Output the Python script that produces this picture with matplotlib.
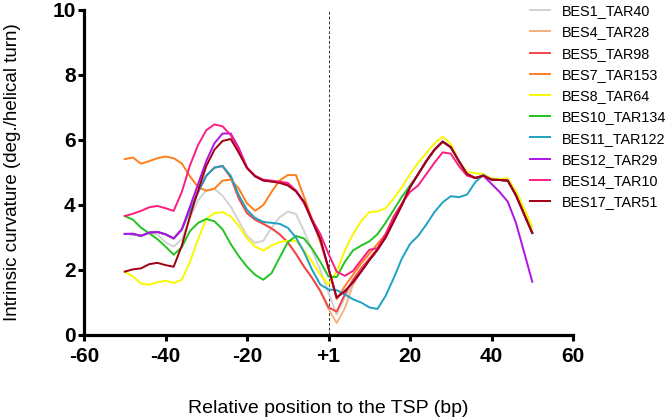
"""Intrinsic curvature profiles around the TSP."""
import matplotlib
matplotlib.use('Agg')
import matplotlib.pyplot as plt
import numpy as np

plt.rcParams['font.family'] = ['Liberation Sans', 'DejaVu Sans']

# positions (bp), one value every 2 bp from -50 to +50
POS = np.arange(-50, 51, 2)

BES1_TAR40 = [3.11, 3.10, 3.05, 3.15, 3.10, 2.85, 2.72, 2.95, 3.60, 4.15,
              4.45, 4.50, 4.28, 3.95, 3.50, 3.05, 2.83, 2.90, 3.30, 3.62,
              3.80, 3.72, 3.20, 2.60, 2.00, 1.30, 0.62, 1.15, 1.60, 1.95,
              2.30, 2.62, 3.00, 3.50, 4.00, 4.55, 4.95, 5.35, 5.70, 5.95,
              5.78, 5.35, 4.95, 4.83, 4.90, 4.78, 4.77, 4.75, 4.30, 3.72,
              3.14]
BES4_TAR28 = [3.11, 3.10, 3.05, 3.15, 3.17, 3.10, 2.97, 3.25, 3.85, 4.40,
              4.90, 5.15, 5.20, 4.85, 4.20, 3.75, 3.55, 3.42, 3.28, 3.10,
              2.85, 2.50, 2.10, 1.75, 1.35, 0.80, 0.37, 0.82, 1.55, 1.95,
              2.30, 2.62, 3.00, 3.50, 4.00, 4.55, 4.95, 5.35, 5.70, 5.95,
              5.78, 5.35, 4.95, 4.83, 4.90, 4.78, 4.77, 4.75, 4.30, 3.72,
              3.14]
BES5_TAR98 = [3.11, 3.10, 3.05, 3.15, 3.17, 3.10, 2.97, 3.25, 3.85, 4.40,
              4.90, 5.15, 5.20, 4.85, 4.20, 3.75, 3.55, 3.42, 3.28, 3.10,
              2.85, 2.50, 2.10, 1.75, 1.35, 0.85, 0.72, 1.25, 1.70, 2.05,
              2.35, 2.65, 3.00, 3.50, 4.00, 4.55, 4.95, 5.35, 5.70, 5.95,
              5.78, 5.35, 4.95, 4.83, 4.90, 4.78, 4.77, 4.75, 4.30, 3.72,
              3.14]
BES7_TAR153 = [5.41, 5.46, 5.27, 5.35, 5.44, 5.49, 5.44, 5.28, 4.88, 4.55,
               4.44, 4.50, 4.75, 4.78, 4.50, 4.05, 3.82, 4.00, 4.40, 4.75,
               4.92, 4.92, 4.25, 3.55, 2.85, 2.05, 1.10, 1.50, 1.85, 2.20,
               2.50, 2.80, 3.10, 3.55, 4.00, 4.55, 4.95, 5.35, 5.70, 5.95,
               5.78, 5.35, 4.95, 4.83, 4.90, 4.78, 4.77, 4.75, 4.30, 3.72,
               3.14]
BES8_TAR64 = [1.95, 1.80, 1.58, 1.55, 1.62, 1.67, 1.60, 1.70, 2.25, 2.95,
              3.57, 3.75, 3.78, 3.65, 3.35, 2.97, 2.72, 2.60, 2.75, 2.86,
              2.90, 2.90, 2.60, 2.25, 1.85, 1.55, 1.95, 2.60, 3.10, 3.50,
              3.78, 3.80, 3.90, 4.20, 4.55, 4.95, 5.30, 5.60, 5.90, 6.10,
              5.88, 5.35, 5.02, 4.98, 4.95, 4.82, 4.80, 4.82, 4.42, 3.90,
              3.32]
BES10_TAR134 = [3.66, 3.55, 3.30, 3.13, 2.95, 2.72, 2.47, 2.70, 3.20, 3.45,
                3.57, 3.50, 3.25, 2.80, 2.42, 2.10, 1.85, 1.70, 1.90, 2.38,
                2.85, 3.05, 2.97, 2.65, 2.25, 1.80, 1.78, 2.25, 2.60, 2.75,
                2.88, 3.10, 3.45, 3.85, 4.25, 4.60, 4.95, 5.35, 5.70, 5.95,
                5.78, 5.35, 4.95, 4.83, 4.90, 4.78, 4.77, 4.75, 4.30, 3.72,
                3.14]
BES11_TAR122 = [3.11, 3.10, 3.05, 3.15, 3.17, 3.10, 2.97, 3.25, 3.85, 4.40,
                4.90, 5.15, 5.20, 4.90, 4.30, 3.85, 3.60, 3.48, 3.45, 3.42,
                3.30, 3.00, 2.55, 2.00, 1.55, 1.40, 1.38, 1.25, 1.10, 1.00,
                0.85, 0.80, 1.20, 1.75, 2.35, 2.80, 3.05, 3.40, 3.78, 4.08,
                4.27, 4.24, 4.32, 4.70, 4.93, 4.78, 4.77, 4.75, 4.30, 3.72,
                3.14]
BES12_TAR29 = [3.11, 3.12, 3.05, 3.15, 3.17, 3.10, 2.97, 3.25, 3.95, 4.65,
               5.35, 5.90, 6.20, 6.20, 5.75, 5.15, 4.88, 4.76, 4.73, 4.70,
               4.63, 4.43, 4.08, 3.50, 2.95, 2.05, 1.15, 1.35, 1.62, 1.95,
               2.30, 2.62, 3.00, 3.50, 4.00, 4.55, 4.95, 5.35, 5.70, 5.95,
               5.78, 5.35, 4.95, 4.83, 4.90, 4.65, 4.40, 4.10, 3.45, 2.55,
               1.64]
BES14_TAR10 = [3.66, 3.73, 3.82, 3.93, 3.97, 3.90, 3.82, 4.40, 5.22, 5.85,
               6.30, 6.48, 6.42, 6.15, 5.70, 5.15, 4.90, 4.78, 4.75, 4.72,
               4.68, 4.45, 4.05, 3.55, 3.10, 2.50, 1.95, 1.82, 1.97, 2.30,
               2.62, 2.67, 3.10, 3.65, 4.05, 4.40, 4.60, 4.95, 5.30, 5.62,
               5.58, 5.20, 4.90, 4.83, 4.90, 4.78, 4.77, 4.75, 4.30, 3.72,
               3.14]
BES17_TAR51 = [1.95, 2.02, 2.05, 2.18, 2.22, 2.15, 2.10, 2.75, 3.65, 4.45,
               5.20, 5.70, 5.97, 6.03, 5.60, 5.13, 4.88, 4.75, 4.72, 4.68,
               4.60, 4.42, 4.10, 3.50, 2.95, 2.05, 1.15, 1.35, 1.62, 1.95,
               2.30, 2.62, 3.00, 3.50, 4.00, 4.55, 4.95, 5.35, 5.70, 5.95,
               5.78, 5.35, 4.95, 4.83, 4.90, 4.78, 4.77, 4.75, 4.30, 3.72,
               3.14]

SERIES = [
    ('BES1_TAR40', BES1_TAR40, '#d2d2d2'),
    ('BES4_TAR28', BES4_TAR28, '#f5b07c'),
    ('BES5_TAR98', BES5_TAR98, '#f2464a'),
    ('BES7_TAR153', BES7_TAR153, '#ff7f1e'),
    ('BES8_TAR64', BES8_TAR64, '#f8f800'),
    ('BES10_TAR134', BES10_TAR134, '#22c322'),
    ('BES11_TAR122', BES11_TAR122, '#1fa2c2'),
    ('BES12_TAR29', BES12_TAR29, '#b012e6'),
    ('BES14_TAR10', BES14_TAR10, '#fa1e82'),
    ('BES17_TAR51', BES17_TAR51, '#a00014'),
]

XTICKS = [-60, -40, -20, 0, 20, 40, 60]
XTICKLABELS = ['-60', '-40', '-20', '+1', '20', '40', '60']
YTICKS = [0, 2, 4, 6, 8, 10]


def plot():
    fig = plt.figure(figsize=(6.69, 4.2), dpi=100)
    ax = fig.add_axes([0.1256, 0.2024, 0.7309, 0.7738])

    # TSP marker
    ax.plot([0, 0], [0, 10], color='#333333', linestyle=(0, (3, 2)),
            linewidth=0.7, zorder=1)

    for name, vals, col in SERIES:
        ax.plot(POS, vals, color=col, linewidth=1.4, label=name, zorder=2)

    ax.set_xlim(-60, 60)
    ax.set_ylim(0, 10)
    ax.set_xticks(XTICKS)
    ax.set_xticklabels(XTICKLABELS)
    ax.set_yticks(YTICKS)

    for s in ('top', 'right'):
        ax.spines[s].set_visible(False)
    for s in ('left', 'bottom'):
        ax.spines[s].set_linewidth(2.3)
        ax.spines[s].set_capstyle('projecting')

    ax.tick_params(axis='both', direction='out', length=4.5, width=2.2,
                   labelsize=15)
    ax.tick_params(axis='y', pad=1.5)
    ax.tick_params(axis='x', pad=4)
    for lab in ax.get_xticklabels() + ax.get_yticklabels():
        lab.set_fontweight('bold')

    ax.set_xlabel('Relative position to the TSP (bp)', fontsize=14)
    ax.set_ylabel('Intrinsic curvature (deg./helical turn)', fontsize=13.5)
    ax.xaxis.set_label_coords(0.5, -0.225)
    ax.yaxis.set_label_coords(-0.147, 0.5)
    ax.xaxis.label.set_va('center')
    ax.yaxis.label.set_va('center')

    ax.legend(loc='upper left', bbox_to_anchor=(0.792, 0.99),
              bbox_transform=fig.transFigure, frameon=False, fontsize=10.4,
              handlelength=1.4, handletextpad=0.8, labelspacing=0.5,
              borderpad=0, borderaxespad=0)

    fig.savefig('out.png', dpi=100)


if __name__ == '__main__':
    plot()
